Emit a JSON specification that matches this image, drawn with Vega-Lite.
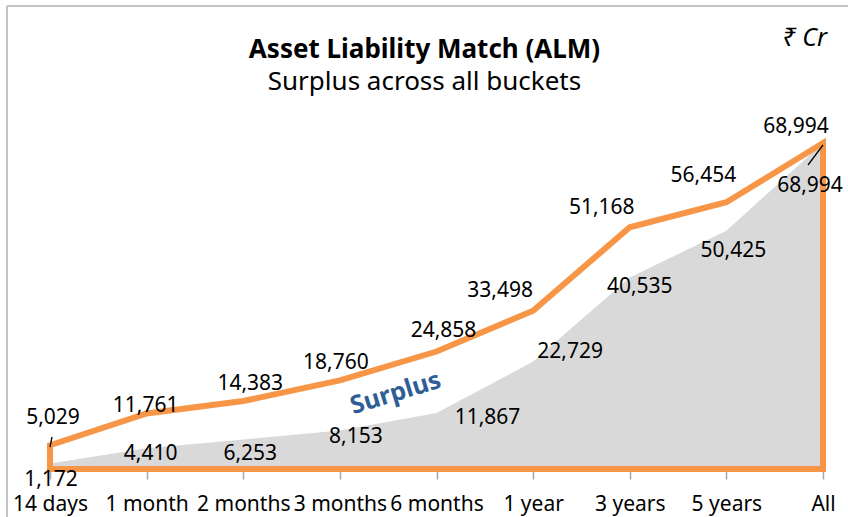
{
  "$schema": "https://vega.github.io/schema/vega-lite/v6.json",
  "width": 773,
  "height": 326,
  "autosize": {"type": "none"},
  "padding": {"left": 50, "right": 25, "top": 143, "bottom": 48},
  "background": "white",
  "title": {
    "text": "Asset Liability Match (ALM)",
    "subtitle": "Surplus across all buckets",
    "anchor": "middle",
    "frame": "group",
    "font": "Noto Sans",
    "fontSize": 26,
    "fontWeight": "bold",
    "color": "#000000",
    "subtitleFont": "Noto Sans",
    "subtitleFontSize": 26,
    "subtitleColor": "#000000",
    "subtitlePadding": 6,
    "offset": -90,
    "dx": -12
  },
  "data": {
    "values": [
      {"bucket": "14 days", "assets": 5029, "liabilities": 1172},
      {"bucket": "1 month", "assets": 11761, "liabilities": 4410},
      {"bucket": "2 months", "assets": 14383, "liabilities": 6253},
      {"bucket": "3 months", "assets": 18760, "liabilities": 8153},
      {"bucket": "6 months", "assets": 24858, "liabilities": 11867},
      {"bucket": "1 year", "assets": 33498, "liabilities": 22729},
      {"bucket": "3 years", "assets": 51168, "liabilities": 40535},
      {"bucket": "5 years", "assets": 56454, "liabilities": 50425},
      {"bucket": "All", "assets": 68994, "liabilities": 68994}
    ]
  },
  "config": {
    "view": {"stroke": null},
    "text": {"font": "Noto Sans", "fontSize": 21, "color": "#000000", "align": "center", "baseline": "middle"},
    "axis": {
      "title": null,
      "domain": false,
      "ticks": true,
      "tickColor": "#A6A6A6",
      "tickSize": 10,
      "tickWidth": 1.5,
      "labelFont": "Noto Sans",
      "labelFontSize": 21,
      "labelColor": "#000000",
      "labelPadding": 14,
      "labelOverlap": false,
      "labelAngle": 0,
      "grid": false
    }
  },
  "encoding": {
    "x": {
      "field": "bucket",
      "type": "ordinal",
      "scale": {"type": "point", "padding": 0, "domain": ["14 days", "1 month", "2 months", "3 months", "6 months", "1 year", "3 years", "5 years", "All"]},
      "axis": {}
    }
  },
  "layer": [
    {
      "data": {"values": [{}]},
      "mark": {"type": "rule", "color": "#C4C4C4", "strokeWidth": 2, "xOffset": -43, "x2Offset": 25, "yOffset": -137, "y2Offset": -137},
      "encoding": {"x": {"datum": "14 days"}, "x2": {"datum": "All"}, "y": {"datum": 68994}, "y2": {"datum": 68994}}
    },
    {
      "data": {"values": [{}]},
      "mark": {"type": "rule", "color": "#C4C4C4", "strokeWidth": 2, "xOffset": -43, "x2Offset": -43, "yOffset": -137, "y2Offset": 48},
      "encoding": {"x": {"datum": "14 days"}, "x2": {"datum": "14 days"}, "y": {"datum": 68994}, "y2": {"datum": 0}}
    },
    {
      "mark": {"type": "area", "color": "#D9D9D9"},
      "encoding": {"y": {"field": "liabilities", "type": "quantitative", "scale": {"domain": [0, 68994], "nice": false}, "axis": null}}
    },
    {
      "mark": {"type": "area", "fillOpacity": 0, "fill": "#ffffff", "stroke": "#F79646", "strokeWidth": 6, "strokeJoin": "miter"},
      "encoding": {"y": {"field": "assets", "type": "quantitative", "scale": {"domain": [0, 68994], "nice": false}, "axis": null}}
    },
    {"transform": [{"filter": "datum.bucket === '14 days'"}], "mark": {"type": "text", "dx": 3, "dy": -27}, "encoding": {"y": {"field": "assets", "type": "quantitative"}, "text": {"field": "assets", "type": "quantitative", "format": ","}}},
    {"transform": [{"filter": "datum.bucket === '1 month'"}], "mark": {"type": "text", "dx": -1, "dy": -7}, "encoding": {"y": {"field": "assets", "type": "quantitative"}, "text": {"field": "assets", "type": "quantitative", "format": ","}}},
    {"transform": [{"filter": "datum.bucket === '2 months'"}], "mark": {"type": "text", "dx": 7, "dy": -17}, "encoding": {"y": {"field": "assets", "type": "quantitative"}, "text": {"field": "assets", "type": "quantitative", "format": ","}}},
    {"transform": [{"filter": "datum.bucket === '3 months'"}], "mark": {"type": "text", "dx": -4, "dy": -17}, "encoding": {"y": {"field": "assets", "type": "quantitative"}, "text": {"field": "assets", "type": "quantitative", "format": ","}}},
    {"transform": [{"filter": "datum.bucket === '6 months'"}], "mark": {"type": "text", "dx": 7, "dy": -21}, "encoding": {"y": {"field": "assets", "type": "quantitative"}, "text": {"field": "assets", "type": "quantitative", "format": ","}}},
    {"transform": [{"filter": "datum.bucket === '1 year'"}], "mark": {"type": "text", "dx": -33, "dy": -20}, "encoding": {"y": {"field": "assets", "type": "quantitative"}, "text": {"field": "assets", "type": "quantitative", "format": ","}}},
    {"transform": [{"filter": "datum.bucket === '3 years'"}], "mark": {"type": "text", "dx": -28, "dy": -19}, "encoding": {"y": {"field": "assets", "type": "quantitative"}, "text": {"field": "assets", "type": "quantitative", "format": ","}}},
    {"transform": [{"filter": "datum.bucket === '5 years'"}], "mark": {"type": "text", "dx": -23, "dy": -26}, "encoding": {"y": {"field": "assets", "type": "quantitative"}, "text": {"field": "assets", "type": "quantitative", "format": ","}}},
    {"transform": [{"filter": "datum.bucket === 'All'"}], "mark": {"type": "text", "dx": -27, "dy": -16}, "encoding": {"y": {"field": "assets", "type": "quantitative"}, "text": {"field": "assets", "type": "quantitative", "format": ","}}},
    {"transform": [{"filter": "datum.bucket === '14 days'"}], "mark": {"type": "text", "dx": 1, "dy": 17}, "encoding": {"y": {"field": "liabilities", "type": "quantitative"}, "text": {"field": "liabilities", "type": "quantitative", "format": ","}}},
    {"transform": [{"filter": "datum.bucket === '1 month'"}], "mark": {"type": "text", "dx": 4, "dy": 6}, "encoding": {"y": {"field": "liabilities", "type": "quantitative"}, "text": {"field": "liabilities", "type": "quantitative", "format": ","}}},
    {"transform": [{"filter": "datum.bucket === '2 months'"}], "mark": {"type": "text", "dx": 7, "dy": 15}, "encoding": {"y": {"field": "liabilities", "type": "quantitative"}, "text": {"field": "liabilities", "type": "quantitative", "format": ","}}},
    {"transform": [{"filter": "datum.bucket === '3 months'"}], "mark": {"type": "text", "dx": 16, "dy": 7}, "encoding": {"y": {"field": "liabilities", "type": "quantitative"}, "text": {"field": "liabilities", "type": "quantitative", "format": ","}}},
    {"transform": [{"filter": "datum.bucket === '6 months'"}], "mark": {"type": "text", "dx": 51, "dy": 5}, "encoding": {"y": {"field": "liabilities", "type": "quantitative"}, "text": {"field": "liabilities", "type": "quantitative", "format": ","}}},
    {"transform": [{"filter": "datum.bucket === '1 year'"}], "mark": {"type": "text", "dx": 37, "dy": -10}, "encoding": {"y": {"field": "liabilities", "type": "quantitative"}, "text": {"field": "liabilities", "type": "quantitative", "format": ","}}},
    {"transform": [{"filter": "datum.bucket === '3 years'"}], "mark": {"type": "text", "dx": 10, "dy": 10}, "encoding": {"y": {"field": "liabilities", "type": "quantitative"}, "text": {"field": "liabilities", "type": "quantitative", "format": ","}}},
    {"transform": [{"filter": "datum.bucket === '5 years'"}], "mark": {"type": "text", "dx": 7, "dy": 20}, "encoding": {"y": {"field": "liabilities", "type": "quantitative"}, "text": {"field": "liabilities", "type": "quantitative", "format": ","}}},
    {"transform": [{"filter": "datum.bucket === 'All'"}], "mark": {"type": "text", "dx": -13, "dy": 43}, "encoding": {"y": {"field": "liabilities", "type": "quantitative"}, "text": {"field": "liabilities", "type": "quantitative", "format": ","}}},
    {
      "data": {"values": [{}]},
      "mark": {"type": "rule", "color": "#000000", "strokeWidth": 1.3, "x2Offset": 2},
      "encoding": {"x": {"datum": "14 days"}, "x2": {"datum": "14 days"}, "y": {"datum": 4656}, "y2": {"datum": 6772}}
    },
    {
      "data": {"values": [{}]},
      "mark": {"type": "rule", "color": "#000000", "strokeWidth": 1.3, "x2Offset": -15},
      "encoding": {"x": {"datum": "All"}, "x2": {"datum": "All"}, "y": {"datum": 68570}, "y2": {"datum": 64338}}
    },
    {
      "data": {"values": [{"label": "₹ Cr"}]},
      "mark": {"type": "text", "align": "right", "fontStyle": "italic", "fontSize": 25, "dx": 4, "dy": -105},
      "encoding": {"x": {"datum": "All"}, "y": {"datum": 68994}, "text": {"field": "label"}}
    },
    {
      "data": {"values": [{"label": "Surplus"}]},
      "mark": {"type": "text", "fontSize": 25, "fontWeight": "bold", "color": "#2F5E97", "angle": 343, "xOffset": -41},
      "encoding": {"x": {"datum": "6 months"}, "y": {"datum": 16085}, "text": {"field": "label"}}
    }
  ]
}
